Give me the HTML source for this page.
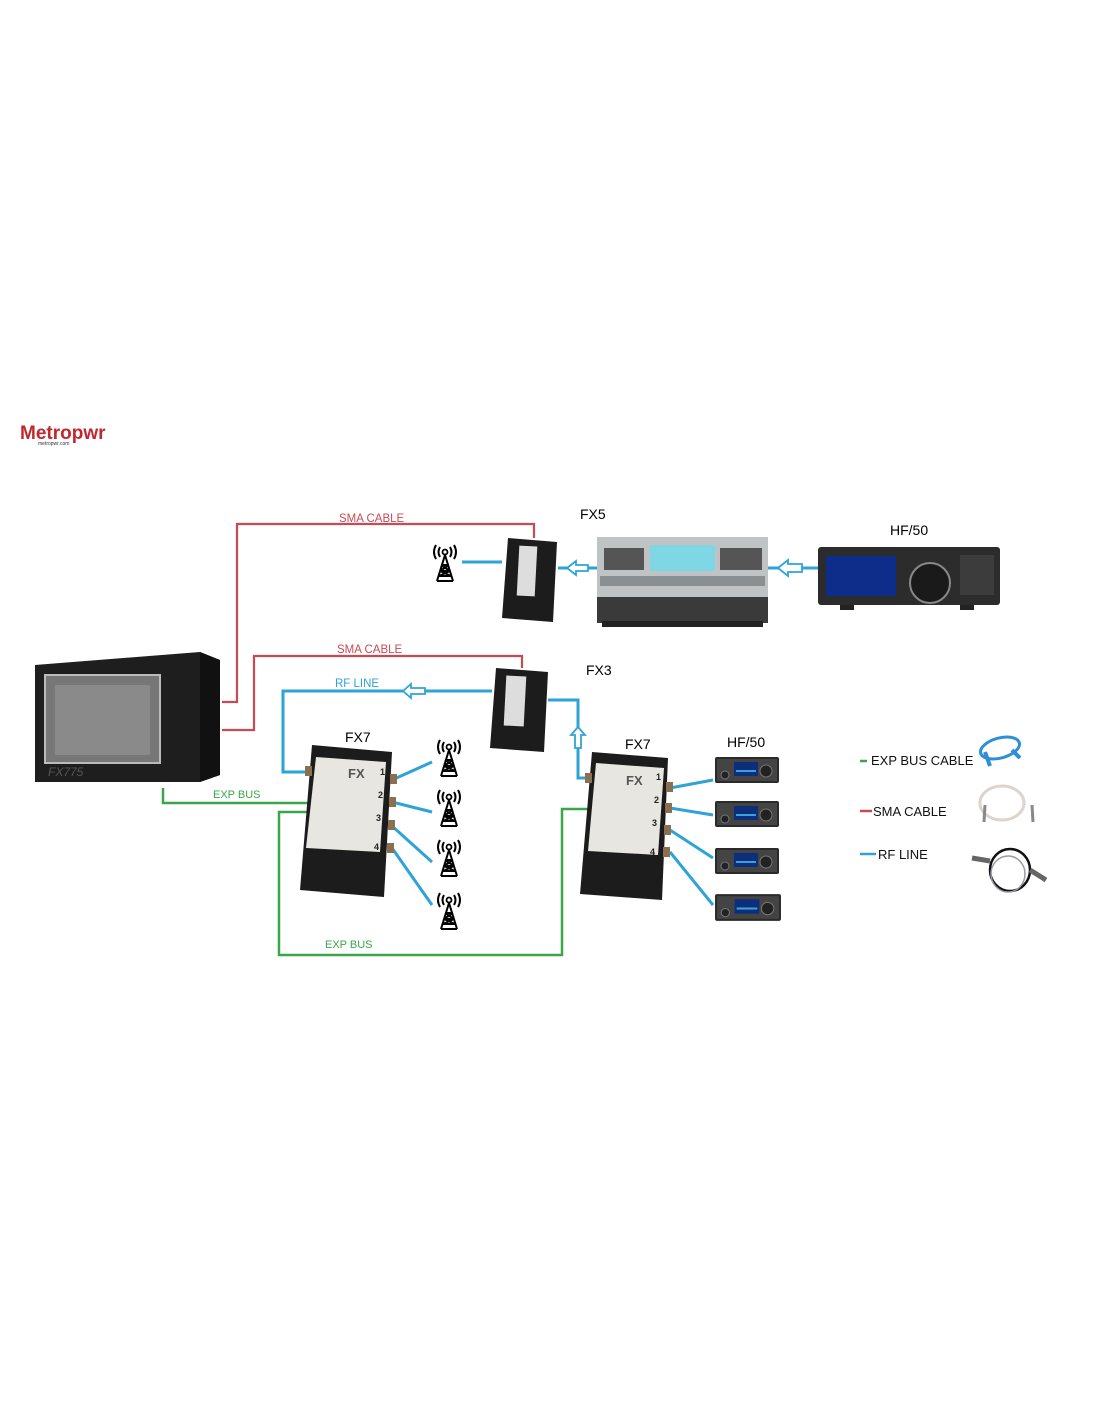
<!DOCTYPE html>
<html><head><meta charset="utf-8"><style>
html,body{margin:0;padding:0;background:#fff;}
svg{display:block;}
text{font-family:"Liberation Sans",sans-serif;}
</style></head><body>
<svg width="1100" height="1422" viewBox="0 0 1100 1422" xmlns="http://www.w3.org/2000/svg">
<defs>
<symbol id="ant" viewBox="0 0 34 40">
  <path d="M17 12 L9 38 M17 12 L25 38 M9 38 L25 38 M12 28 L22 28 M13 22 L21 22 M11 33 L23 33 M12 28 L21 22 M22 28 L13 22 M11 33 L22 28 M23 33 L12 28" stroke="#000" stroke-width="2" fill="none"/>
  <circle cx="17" cy="9" r="2.5" fill="none" stroke="#000" stroke-width="1.8"/>
  <path d="M12 4 Q9 9 12 14 M22 4 Q25 9 22 14 M8 2 Q4 9 8 16 M26 2 Q30 9 26 16" stroke="#000" stroke-width="2" fill="none"/>
</symbol>
<symbol id="radio" viewBox="0 0 66 30">
  <rect x="1" y="2" width="64" height="26" rx="2" fill="#2a2a2a"/>
  <rect x="3" y="4" width="60" height="22" fill="#444"/>
  <rect x="20" y="7" width="24" height="14" fill="#0d2f7a"/>
  <rect x="22" y="15" width="20" height="2" fill="#3aa0e0"/>
  <circle cx="52" cy="16" r="6" fill="#222" stroke="#777"/>
  <circle cx="11" cy="20" r="4" fill="#222" stroke="#777"/>
</symbol>
</defs>

<!-- logo -->
<text x="20" y="439" font-size="19" font-weight="bold" fill="#c0282e">Metropwr</text>
<text x="38" y="445" font-size="5" fill="#333">metropwr.com</text>

<!-- monitor FX775 -->
<polygon points="35,665 200,652 220,660 220,775 200,782 35,782" fill="#1e1e1e"/>
<polygon points="200,652 220,660 220,775 200,782" fill="#111"/>
<rect x="45" y="675" width="115" height="88" fill="#777" stroke="#bbb" stroke-width="2"/>
<rect x="55" y="685" width="95" height="70" fill="#8a8a8a"/>
<text x="48" y="776" font-size="12" font-style="italic" fill="#555">FX775</text>

<!-- red SMA cables -->
<g stroke="#c84a55" stroke-width="2.2" fill="none">
<polyline points="222,702 237,702 237,524 534,524 534,538"/>
<polyline points="222,730 254,730 254,656 522,656 522,668"/>
</g>
<text x="339" y="522" font-size="11.5" fill="#c84a55">SMA CABLE</text>
<text x="337" y="653" font-size="11.5" fill="#c84a55">SMA CABLE</text>

<!-- blue RF lines -->
<g stroke="#2ea3d6" stroke-width="3" fill="none">
<polyline points="492,691 283,691 283,772 310,772"/>
<polyline points="548,700 578,700 578,778 597,778"/>
<line x1="462" y1="562" x2="502" y2="562"/>
<line x1="558" y1="568" x2="597" y2="568"/>
<line x1="768" y1="568" x2="818" y2="568"/>
<line x1="392" y1="780" x2="432" y2="762"/>
<line x1="392" y1="802" x2="432" y2="812"/>
<line x1="392" y1="826" x2="432" y2="862"/>
<line x1="392" y1="848" x2="432" y2="905"/>
<line x1="670" y1="788" x2="713" y2="780"/>
<line x1="670" y1="808" x2="713" y2="815"/>
<line x1="670" y1="830" x2="713" y2="858"/>
<line x1="670" y1="852" x2="713" y2="905"/>
</g>
<!-- hollow arrows -->
<g fill="#fff" stroke="#2ea3d6" stroke-width="1.8">
<polygon points="403,691 411,684 411,688 425,688 425,694 411,694 411,698"/>
<polygon points="578,727 571,735 575,735 575,748 581,748 581,735 585,735"/>
<polygon points="567,568 576,561 576,565 588,565 588,571 576,571 576,575"/>
<polygon points="778,568 788,560 788,564 802,564 802,572 788,572 788,576"/>
</g>
<text x="335" y="687" font-size="11.5" fill="#2ea3d6">RF LINE</text>

<!-- green EXP BUS -->
<g stroke="#3aa64a" stroke-width="2.5" fill="none">
<polyline points="163,788 163,803 310,803"/>
<polyline points="310,812 279,812 279,955 562,955 562,809 590,809"/>
</g>
<text x="213" y="798" font-size="11" fill="#3aa64a">EXP BUS</text>
<text x="325" y="948" font-size="11" fill="#3aa64a">EXP BUS</text>

<!-- FX5 small box -->
<polygon points="508,538 557,542 553,622 502,618" fill="#1c1c1c"/>
<rect x="518" y="546" width="18" height="50" fill="#ddd" transform="rotate(3 527 571)"/>
<text x="580" y="519" font-size="14" fill="#000">FX5</text>
<use href="#ant" x="428" y="543" width="34" height="40"/>

<!-- FX5 amplifier -->
<rect x="597" y="537" width="171" height="60" fill="#bfc3c4"/>
<rect x="597" y="597" width="171" height="26" fill="#3a3a3a"/>
<rect x="602" y="621" width="161" height="6" fill="#222"/>
<rect x="650" y="545" width="65" height="26" fill="#7fd7e6"/>
<rect x="604" y="548" width="40" height="22" fill="#555"/>
<rect x="720" y="548" width="42" height="22" fill="#555"/>
<rect x="600" y="576" width="165" height="10" fill="#8a9092"/>

<!-- HF/50 top radio -->
<text x="890" y="535" font-size="14" fill="#000">HF/50</text>
<rect x="818" y="547" width="182" height="58" rx="3" fill="#2c2c2c"/>
<rect x="826" y="556" width="70" height="40" fill="#0e2d8a"/>
<circle cx="930" cy="583" r="20" fill="#1a1a1a" stroke="#888" stroke-width="2"/>
<rect x="960" y="555" width="34" height="40" fill="#3c3c3c"/>
<rect x="840" y="605" width="14" height="5" fill="#222"/><rect x="960" y="605" width="14" height="5" fill="#222"/>

<!-- FX3 box -->
<polygon points="496,668 548,672 544,752 490,748" fill="#1c1c1c"/>
<rect x="505" y="676" width="20" height="50" fill="#ddd" transform="rotate(3 515 701)"/>
<text x="586" y="675" font-size="14" fill="#000">FX3</text>

<!-- FX7 left -->
<text x="345" y="742" font-size="14" fill="#000">FX7</text>
<polygon points="312,745 392,752 384,897 300,890" fill="#1c1c1c"/>
<polygon points="316,757 386,762 380,852 306,848" fill="#e8e6e0"/>
<text x="348" y="778" font-size="13" font-weight="bold" fill="#555">FX</text>
<g font-size="9" font-weight="bold" fill="#222"><text x="380" y="775">1</text><text x="378" y="798">2</text><text x="376" y="821">3</text><text x="374" y="850">4</text></g>
<g fill="#8a7050"><rect x="390" y="774" width="7" height="10"/><rect x="389" y="797" width="7" height="10"/><rect x="388" y="820" width="7" height="10"/><rect x="387" y="843" width="7" height="10"/><rect x="305" y="766" width="7" height="10"/></g>
<use href="#ant" x="432" y="738" width="34" height="40"/>
<use href="#ant" x="432" y="788" width="34" height="40"/>
<use href="#ant" x="432" y="838" width="34" height="40"/>
<use href="#ant" x="432" y="891" width="34" height="40"/>

<!-- FX7 right -->
<text x="625" y="749" font-size="14" fill="#000">FX7</text>
<polygon points="592,752 668,758 662,900 580,894" fill="#1c1c1c"/>
<polygon points="596,763 664,768 658,855 588,851" fill="#e8e6e0"/>
<text x="626" y="785" font-size="13" font-weight="bold" fill="#555">FX</text>
<g font-size="9" font-weight="bold" fill="#222"><text x="656" y="780">1</text><text x="654" y="803">2</text><text x="652" y="826">3</text><text x="650" y="855">4</text></g>
<g fill="#8a7050"><rect x="666" y="782" width="7" height="10"/><rect x="665" y="803" width="7" height="10"/><rect x="664" y="825" width="7" height="10"/><rect x="663" y="847" width="7" height="10"/><rect x="585" y="773" width="7" height="10"/></g>
<text x="727" y="747" font-size="14" fill="#000">HF/50</text>
<use href="#radio" x="714" y="755" width="66" height="30"/>
<use href="#radio" x="714" y="799" width="66" height="30"/>
<use href="#radio" x="714" y="846" width="66" height="30"/>
<use href="#radio" x="714" y="892" width="68" height="31"/>

<!-- legend -->
<line x1="860" y1="761" x2="867" y2="761" stroke="#3aa64a" stroke-width="2.5"/>
<text x="871" y="765" font-size="13" fill="#111">EXP BUS CABLE</text>
<line x1="860" y1="811" x2="872" y2="811" stroke="#c84a55" stroke-width="2.5"/>
<text x="873" y="816" font-size="13" fill="#111">SMA CABLE</text>
<line x1="860" y1="854" x2="876" y2="854" stroke="#2ea3d6" stroke-width="2.5"/>
<text x="878" y="859" font-size="13" fill="#111">RF LINE</text>
<ellipse cx="1000" cy="748" rx="20" ry="10" fill="none" stroke="#2e8fd6" stroke-width="3" transform="rotate(-15 1000 748)"/>
<line x1="985" y1="752" x2="990" y2="766" stroke="#2e8fd6" stroke-width="4"/>
<line x1="1012" y1="750" x2="1020" y2="758" stroke="#2e8fd6" stroke-width="4"/>
<ellipse cx="1002" cy="803" rx="22" ry="17" fill="none" stroke="#ddd4cc" stroke-width="3"/>
<line x1="985" y1="805" x2="984" y2="822" stroke="#888" stroke-width="3"/>
<line x1="1032" y1="805" x2="1033" y2="822" stroke="#888" stroke-width="3"/>
<ellipse cx="1010" cy="870" rx="20" ry="21" fill="none" stroke="#111" stroke-width="2.5"/>
<ellipse cx="1008" cy="874" rx="17" ry="18" fill="none" stroke="#99a" stroke-width="1.5"/>
<line x1="972" y1="858" x2="990" y2="861" stroke="#666" stroke-width="5"/>
<line x1="1030" y1="870" x2="1046" y2="880" stroke="#666" stroke-width="5"/>
</svg>
</body></html>
